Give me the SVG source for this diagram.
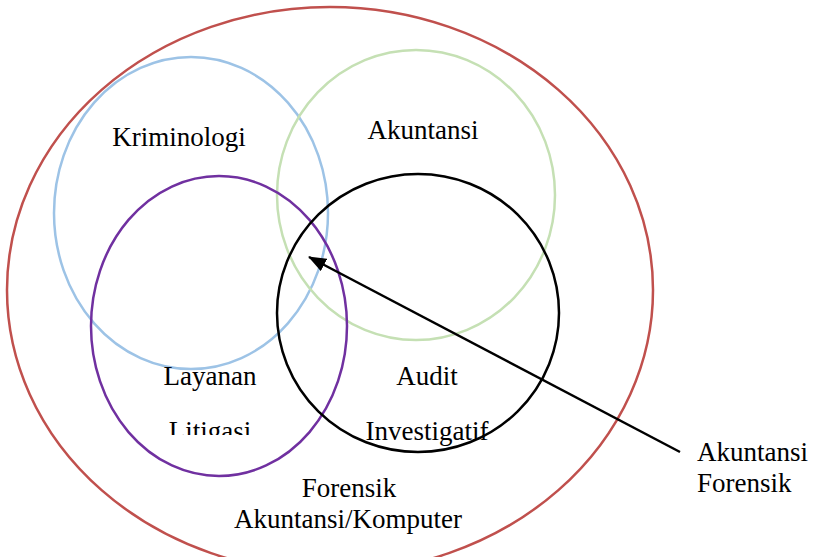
<svg xmlns="http://www.w3.org/2000/svg" width="818" height="557" viewBox="0 0 818 557">
<style>
.c{fill:none;stroke-width:2.5}
.t{font-family:"Liberation Serif","Times New Roman",serif;font-size:27px;fill:#000}
.m{text-anchor:middle}
</style>
<defs>
<marker id="ah" viewBox="0 0 18 14" refX="17" refY="7" markerWidth="18" markerHeight="14" markerUnits="userSpaceOnUse" orient="auto">
<path d="M0,0 L18,7 L0,14 z" fill="#000"/>
</marker>
<clipPath id="clipLit"><rect x="0" y="0" width="818" height="435"/></clipPath>
</defs>
<rect width="818" height="557" fill="#fff"/>
<g id="outer"><ellipse class="c" cx="330" cy="290" rx="323" ry="283" stroke="#c0504d"/></g>
<g id="kriminologi"><ellipse class="c" cx="191" cy="213" rx="137" ry="156" stroke="#9dc3e6"/><text class="t m" x="179" y="146">Kriminologi</text></g>
<g id="akuntansi"><ellipse class="c" cx="416" cy="195" rx="139" ry="145" stroke="#c5e0b4"/><text class="t m" x="423" y="139">Akuntansi</text></g>
<g id="layanan"><ellipse class="c" cx="219" cy="326" rx="128" ry="150" stroke="#7030a0"/><text class="t m" x="210" y="385">Layanan</text><text class="t m" x="210" y="440" clip-path="url(#clipLit)">Litigasi</text></g>
<g id="audit"><ellipse class="c" cx="418" cy="313" rx="141" ry="139" stroke="#000"/><text class="t m" x="427" y="385">Audit</text><text class="t m" x="427" y="440">Investigatif</text></g>
<g id="forensik"><text class="t m" x="349" y="497">Forensik</text><text class="t m" x="348" y="528">Akuntansi/Komputer</text></g>
<g id="label"><text class="t" x="697" y="461">Akuntansi</text><text class="t" x="697" y="492">Forensik</text></g>
<g id="connectors"><line x1="680" y1="452" x2="309" y2="257" stroke="#000" stroke-width="2.5" marker-end="url(#ah)"/></g>
</svg>
